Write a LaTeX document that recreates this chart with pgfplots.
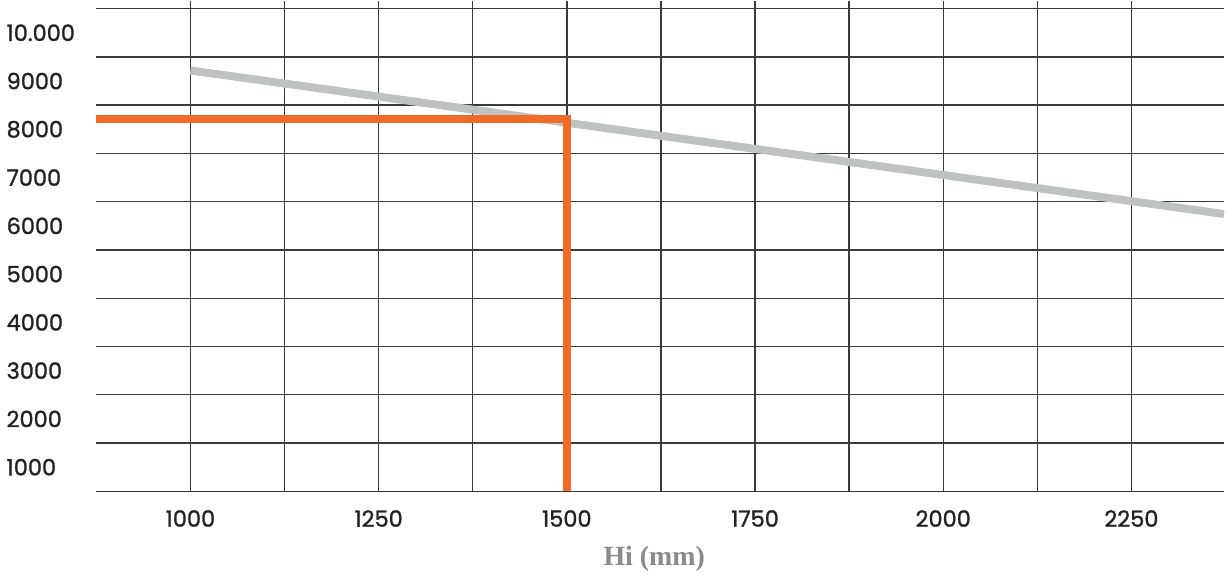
\documentclass[border=0pt]{standalone}
\usepackage{fontspec}
\setmainfont{Poppins}[AutoFakeBold=1.2]
\newfontfamily\labelserif{Liberation Serif}
\usepackage{pgfplots}
\pgfplotsset{compat=1.18}
\definecolor{gridc}{HTML}{3A3A3A}
\definecolor{orangec}{HTML}{F26A28}
\definecolor{greyc}{HTML}{BEC2C1}
\definecolor{labc}{HTML}{8A8A8A}
\definecolor{tickc}{HTML}{222222}
\begin{document}
\begin{tikzpicture}
\begin{axis}[
  scale only axis,
  width=565.5bp, height=246bp,
  xmin=875, xmax=2373,
  ymin=0, ymax=10165,
  axis line style={draw=none},
  scaled y ticks=false, scaled x ticks=false,
  xtick={1000,1250,1500,1750,2000,2250},
  minor xtick={1125,1375,1625,1875,2125},
  ytick={500,1500,2500,3500,4500,5500,6500,7500,8500,9500},
  yticklabels={1000,2000,3000,4000,5000,6000,7000,8000,9000,10.000},
  minor ytick={0,1000,2000,3000,4000,5000,6000,7000,8000,9000,10000},
  xmajorgrids=true, ymajorgrids=false,
  xminorgrids=true, yminorgrids=true,
  major grid style={gridc, line width=0.7bp},
  minor grid style={gridc, line width=0.7bp},
  major tick length=0pt, minor tick length=0pt,
  tick style={draw=none},
  /pgf/number format/assume math mode=true,
  xticklabel={\pgfmathprintnumber[fixed,1000 sep={}]{\tick}},
  xticklabel style={font=\fontsize{11.3}{13}\selectfont\bfseries\color{tickc}, yshift=-6bp},
  yticklabel style={font=\fontsize{11.3}{13}\selectfont\bfseries\color{tickc}, anchor=west, xshift=-48.5bp},
  xlabel={\labelserif\bfseries Hi (mm)},
  xlabel style={font=\fontsize{14}{16}\selectfont\color{labc}, yshift=-3bp, xshift=-3bp},
  clip=false,
]
\addplot[greyc, line width=4bp] coordinates {(1000,8720) (2373,5745)};
\addplot[orangec, line width=4bp, line join=miter, line cap=butt] coordinates {(875,7707) (1500,7707) (1500,0)};
\end{axis}
\end{tikzpicture}
\end{document}
